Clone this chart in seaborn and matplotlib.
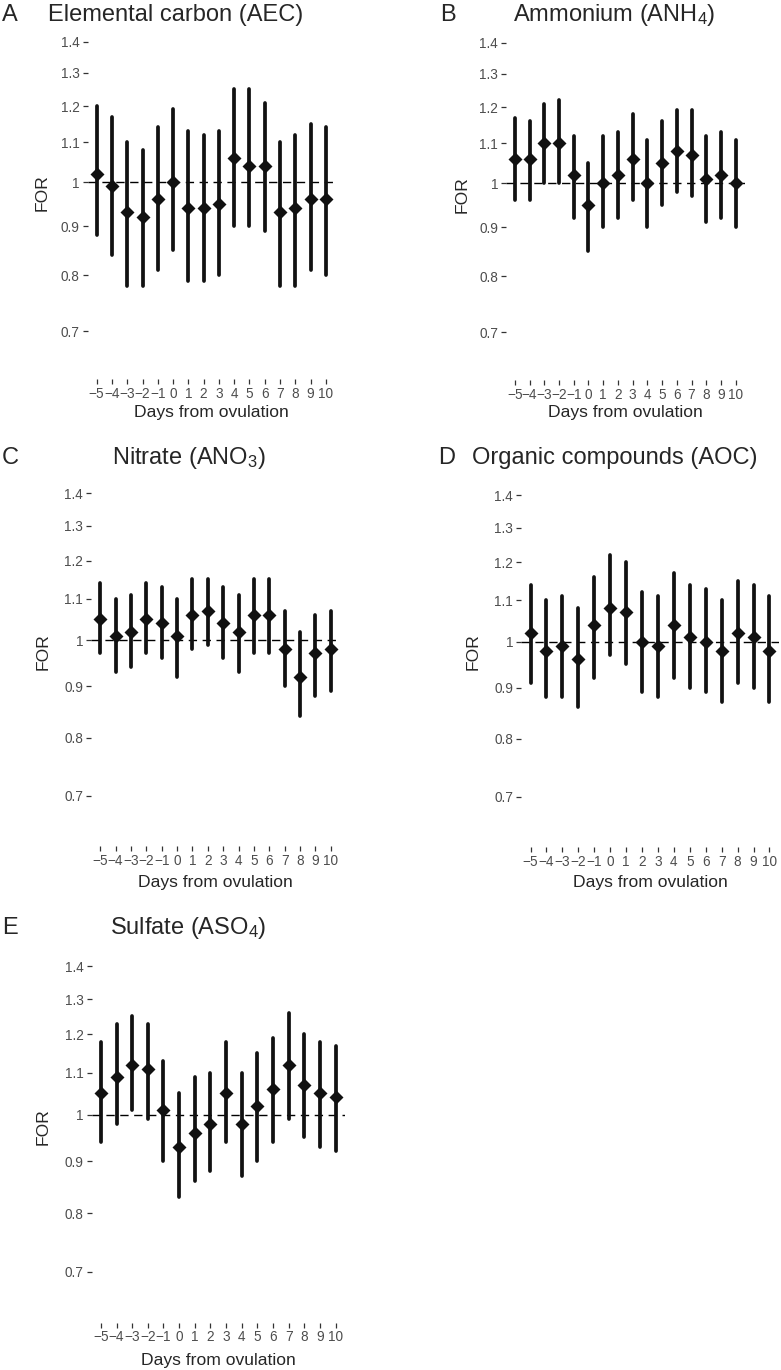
import numpy as np
import pandas as pd
import seaborn as sns
import matplotlib
import matplotlib.pyplot as plt
from matplotlib.ticker import NullLocator

sns.set_style('white')
plt.rcParams['font.family'] = ['Liberation Sans', 'DejaVu Sans']
plt.rcParams['mathtext.default'] = 'regular'

days = [-5, -4, -3, -2, -1, 0, 1, 2, 3, 4, 5, 6, 7, 8, 9, 10]
day_labels = ['\u22125', '\u22124', '\u22123', '\u22122', '\u22121', '0', '1', '2',
              '3', '4', '5', '6', '7', '8', '9', '10']
yticks = [0.7, 0.8, 0.9, 1.0, 1.1, 1.2, 1.3, 1.4]
ytick_labels = ['0.7', '0.8', '0.9', '1', '1.1', '1.2', '1.3', '1.4']

# Elemental carbon (AEC)
aec_est = [1.02, 0.99, 0.93, 0.92, 0.96, 1.00, 0.94, 0.94, 0.95, 1.06, 1.04, 1.04, 0.93, 0.94, 0.96, 0.96]
aec_lo = [0.88, 0.84, 0.78, 0.78, 0.81, 0.85, 0.79, 0.79, 0.80, 0.90, 0.90, 0.89, 0.78, 0.78, 0.81, 0.80]
aec_hi = [1.20, 1.17, 1.10, 1.08, 1.14, 1.19, 1.13, 1.12, 1.13, 1.25, 1.25, 1.21, 1.10, 1.12, 1.15, 1.14]

# Ammonium (ANH4)
anh4_est = [1.06, 1.06, 1.10, 1.10, 1.02, 0.95, 1.00, 1.02, 1.06, 1.00, 1.05, 1.08, 1.07, 1.01, 1.02, 1.00]
anh4_lo = [0.96, 0.96, 1.00, 1.00, 0.92, 0.85, 0.90, 0.92, 0.96, 0.90, 0.95, 0.98, 0.97, 0.91, 0.92, 0.90]
anh4_hi = [1.17, 1.16, 1.21, 1.22, 1.12, 1.05, 1.12, 1.13, 1.18, 1.11, 1.16, 1.19, 1.19, 1.12, 1.13, 1.11]

# Nitrate (ANO3)
ano3_est = [1.05, 1.01, 1.02, 1.05, 1.04, 1.01, 1.06, 1.07, 1.04, 1.02, 1.06, 1.06, 0.98, 0.92, 0.97, 0.98]
ano3_lo = [0.97, 0.93, 0.94, 0.97, 0.96, 0.92, 0.98, 0.99, 0.96, 0.93, 0.97, 0.97, 0.90, 0.84, 0.88, 0.89]
ano3_hi = [1.14, 1.10, 1.11, 1.14, 1.13, 1.10, 1.15, 1.15, 1.13, 1.11, 1.15, 1.15, 1.07, 1.02, 1.06, 1.07]

# Organic compounds (AOC)
aoc_est = [1.02, 0.98, 0.99, 0.96, 1.04, 1.08, 1.07, 1.00, 0.99, 1.04, 1.01, 1.00, 0.98, 1.02, 1.01, 0.98]
aoc_lo = [0.91, 0.88, 0.88, 0.86, 0.92, 0.97, 0.95, 0.89, 0.88, 0.92, 0.90, 0.89, 0.87, 0.91, 0.90, 0.87]
aoc_hi = [1.14, 1.10, 1.11, 1.08, 1.16, 1.22, 1.20, 1.12, 1.11, 1.17, 1.14, 1.13, 1.10, 1.15, 1.14, 1.11]

# Sulfate (ASO4)
aso4_est = [1.05, 1.09, 1.12, 1.11, 1.01, 0.93, 0.96, 0.98, 1.05, 0.98, 1.02, 1.06, 1.12, 1.07, 1.05, 1.04]
aso4_lo = [0.94, 0.98, 1.01, 0.99, 0.90, 0.83, 0.86, 0.88, 0.94, 0.87, 0.90, 0.94, 0.99, 0.95, 0.93, 0.92]
aso4_hi = [1.18, 1.23, 1.25, 1.23, 1.13, 1.05, 1.09, 1.10, 1.18, 1.10, 1.15, 1.19, 1.26, 1.20, 1.18, 1.17]

W, H = 781, 1370
fig = plt.figure(figsize=(W / 100, H / 100), dpi=100)


def fx(x):
    return x / W


def fy(y):
    return 1 - y / H


# letter, title, (est, lo, hi), panel box (left, top, right, bottom) px,
# letter x, title x, baseline y, FOR (x, y), xlabel (x, y)
panels = [
    ('A', 'Elemental carbon (AEC)', (aec_est, aec_lo, aec_hi),
     (87.5, 27, 335, 379), 2, 48, 21, (42, 193), (211, 413)),
    ('B', 'Ammonium (ANH$_4$)', (anh4_est, anh4_lo, anh4_hi),
     (506, 28, 744.5, 380), 440, 513, 21, (462, 195), (625, 413)),
    ('C', 'Nitrate (ANO$_3$)', (ano3_est, ano3_lo, ano3_hi),
     (91, 478, 340, 846), 2, 112, 464, (43, 652), (215, 882)),
    ('D', 'Organic compounds (AOC)', (aoc_est, aoc_lo, aoc_hi),
     (521, 480, 779, 847), 438, 472, 464, (473, 652), (650, 882)),
    ('E', 'Sulfate (ASO$_4$)', (aso4_est, aso4_lo, aso4_hi),
     (91.5, 951, 345, 1322.5), 2, 110, 934, (43, 1127), (218, 1360)),
]

for letter, title, (est, lo, hi), box, lx, tx, by, forpos, xlpos in panels:
    l, t, r, b = box
    ax = fig.add_axes([fx(l), fy(b), (r - l) / W, (b - t) / H])
    ax.set_yscale('log')

    # long table: lower limit, estimate, upper limit for each day
    df = pd.DataFrame({
        'day': days * 3,
        'FOR': list(lo) + list(est) + list(hi),
    })

    ax.axhline(1, color='black', lw=1.0, ls=(0, (6, 4)), zorder=1)
    sns.pointplot(data=df, x='day', y='FOR', estimator='median',
                  errorbar=lambda v: (v.min(), v.max()),
                  linestyle='none', marker='D', markersize=5.2,
                  color='#111111', err_kws={'linewidth': 2.7},
                  ax=ax, zorder=3)

    ax.set_xlim(-0.6, 15.6)
    ax.set_ylim(0.624, 1.45)
    ax.set_yticks(yticks)
    ax.set_yticklabels(ytick_labels)
    ax.yaxis.set_minor_locator(NullLocator())
    ax.set_xticks(range(len(days)))
    ax.set_xticklabels(day_labels)
    ax.set_xlabel('')
    ax.set_ylabel('')
    for s in ax.spines.values():
        s.set_visible(False)
    ax.tick_params(axis='both', which='major', length=3.6, width=0.9,
                   color='#333333', labelcolor='#4D4D4D', labelsize=9.8,
                   left=True, bottom=True, direction='out')
    ax.tick_params(axis='y', pad=2)
    ax.tick_params(axis='x', pad=2)

    fig.text(fx(lx), fy(by), letter, fontsize=17, ha='left', va='baseline')
    fig.text(fx(tx), fy(by), title, fontsize=17, ha='left', va='baseline')
    fig.text(fx(forpos[0]), fy(forpos[1]), 'FOR', fontsize=12.6,
             rotation=90, ha='center', va='center')
    fig.text(fx(xlpos[0]), fy(xlpos[1]), 'Days from ovulation', fontsize=12.6,
             ha='center', va='center')

fig.savefig('out.png', dpi=100)
